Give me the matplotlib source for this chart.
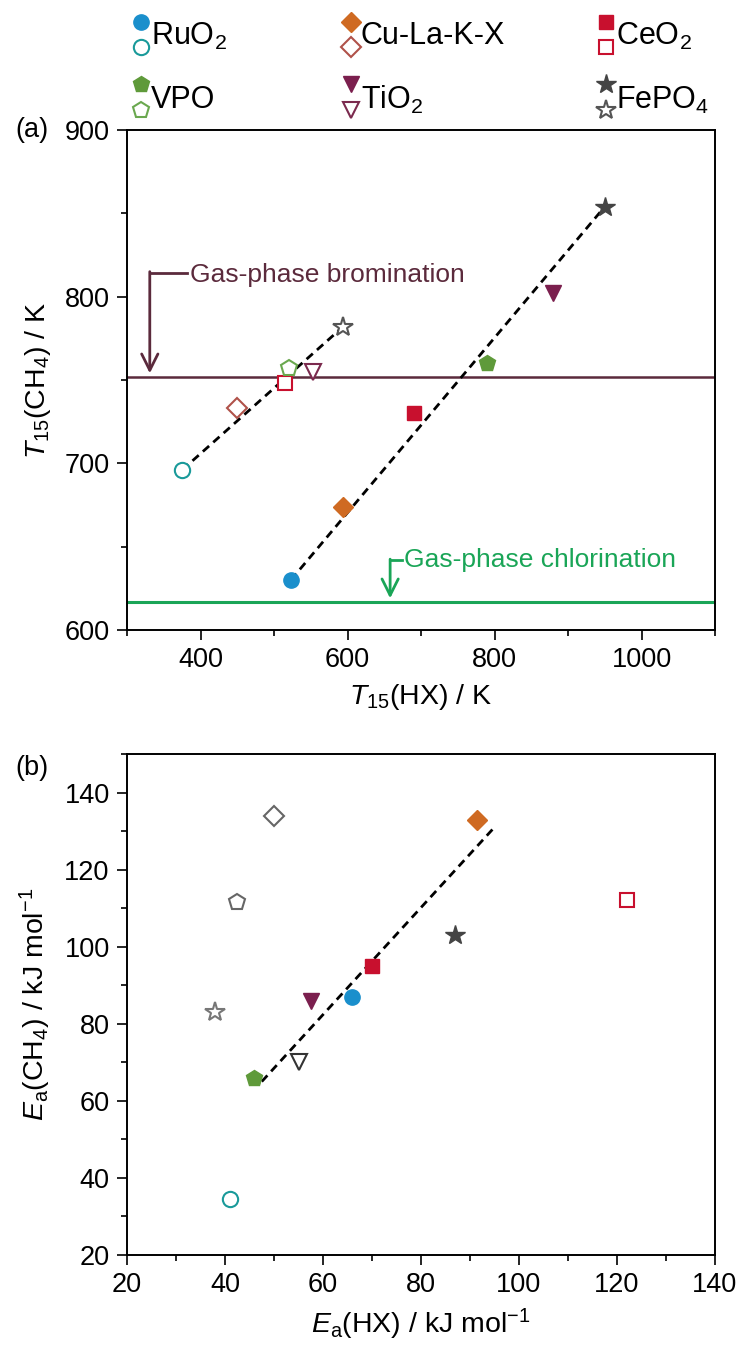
import numpy as np
import matplotlib
matplotlib.use('Agg')
import matplotlib.pyplot as plt
from matplotlib.ticker import MultipleLocator

plt.rcParams['font.family'] = ['Liberation Sans', 'DejaVu Sans']
plt.rcParams['mathtext.fontset'] = 'custom'
plt.rcParams['mathtext.rm'] = 'Liberation Sans'
plt.rcParams['mathtext.it'] = 'Liberation Sans:italic'
plt.rcParams['font.size'] = 19.5

# catalysts, in legend order
catalysts = ['RuO$_2$', 'Cu-La-K-X', 'CeO$_2$', 'VPO', 'TiO$_2$', 'FePO$_4$']
markers = ['o', 'D', 's', 'p', 'v', '*']
msizes = [11, 10, 9.5, 12, 12, 15]
fill_colors = ['#1a8fcc', '#cf6a22', '#c8102e', '#5f9a3a', '#7b1f4e', '#444444']
open_colors_a = ['#1a9a9a', '#b0524a', '#c8102e', '#6aa84f', '#7b2a4e', '#555555']
open_colors_b = ['#1a9a9a', '#666666', '#c8102e', '#666666', '#333333', '#777777']

# panel (a): T15 values in K
t15_hx_filled = [523, 594, 690, 790, 880, 950]
t15_ch4_filled = [630, 674, 730, 760, 802, 854]
t15_hx_open = [375, 450, 515, 520, 553, 594]
t15_ch4_open = [696, 733, 748, 757, 755, 782]

# gas-phase references (K)
t_bromination = 752
t_chlorination = 617

# dashed trend lines (a)
fit_open_x = [375, 594]
fit_open_y = [696, 782]
fit_filled_x = [523, 950]
fit_filled_y = [630, 854]

# panel (b): activation energies in kJ/mol
ea_hx_filled = [66, 91.5, 70, 46, 57.5, 87]
ea_ch4_filled = [87, 133, 95, 66, 86, 103]
ea_hx_open = [41, 50, 122, 42.5, 55, 38]
ea_ch4_open = [34.5, 134, 112, 111.5, 70, 83]

fit_b_x = [47.5, 95]
fit_b_y = [65, 131]

brom_color = '#5b2a3c'
chlor_color = '#1aa557'

fig = plt.figure(figsize=(7.4, 13.48), dpi=100)
W, H = 740, 1348
ax1 = fig.add_axes([127 / W, 1 - 630 / H, 588 / W, 500 / H])
ax2 = fig.add_axes([127 / W, 1 - 1255 / H, 588 / W, 501 / H])


def style_axes(ax):
    for s in ax.spines.values():
        s.set_linewidth(1.4)
    ax.tick_params(which='major', direction='out', length=7.5, width=1.2, pad=5)
    ax.tick_params(which='minor', direction='out', length=4, width=1.2)
    ax.tick_params(top=False, right=False)


def scatter(ax, xs, ys, colors, filled):
    for i in range(len(xs)):
        if filled:
            ax.plot(xs[i], ys[i], marker=markers[i], ms=msizes[i], color=fill_colors[i],
                    mec=fill_colors[i], ls='none', zorder=4)
        else:
            ax.plot(xs[i], ys[i], marker=markers[i], ms=msizes[i], mfc='white',
                    mec=colors[i], mew=1.5, ls='none', zorder=4)


arrow_style = '->,head_length=0.6,head_width=0.3'

# ---- panel (a)
ax1.axhline(t_bromination, color=brom_color, lw=1.8, zorder=1)
ax1.axhline(t_chlorination, color=chlor_color, lw=2.2, zorder=1)
ax1.plot(fit_open_x, fit_open_y, ls=(0, (3, 2)), color='black', lw=2, zorder=3)
ax1.plot(fit_filled_x, fit_filled_y, ls=(0, (3, 2)), color='black', lw=2, zorder=3)
scatter(ax1, t15_hx_open, t15_ch4_open, open_colors_a, False)
scatter(ax1, t15_hx_filled, t15_ch4_filled, None, True)

# bromination bracket arrow
ax1.plot([331, 382], [814, 814], color=brom_color, lw=2)
ax1.annotate('', xy=(331, 754), xytext=(331, 815),
             arrowprops=dict(arrowstyle=arrow_style, color=brom_color, lw=2,
                             shrinkA=0, shrinkB=0))
ax1.text(386, 813, 'Gas-phase bromination', color=brom_color, va='center', ha='left',
         fontsize=19)

# chlorination bracket arrow
ax1.plot([658, 674], [642, 642], color=chlor_color, lw=2)
ax1.annotate('', xy=(658, 619), xytext=(658, 642.5),
             arrowprops=dict(arrowstyle=arrow_style, color=chlor_color, lw=2,
                             shrinkA=0, shrinkB=0))
ax1.text(677, 642, 'Gas-phase chlorination', color=chlor_color, va='center', ha='left',
         fontsize=19)

ax1.set_xlim(300, 1100)
ax1.set_ylim(600, 900)
ax1.xaxis.set_major_locator(MultipleLocator(200))
ax1.xaxis.set_minor_locator(MultipleLocator(100))
ax1.yaxis.set_major_locator(MultipleLocator(100))
ax1.yaxis.set_minor_locator(MultipleLocator(50))
style_axes(ax1)
ax1.set_xlabel('$T_{15}$(HX) / K', labelpad=6, fontsize=20.5)
ax1.set_ylabel('$T_{15}$(CH$_4$) / K', labelpad=8, fontsize=20.5)

# ---- panel (b)
ax2.plot(fit_b_x, fit_b_y, ls=(0, (3, 2)), color='black', lw=2, zorder=3)
scatter(ax2, ea_hx_open, ea_ch4_open, open_colors_b, False)
scatter(ax2, ea_hx_filled, ea_ch4_filled, None, True)
ax2.set_xlim(20, 140)
ax2.set_ylim(20, 150)
ax2.xaxis.set_major_locator(MultipleLocator(20))
ax2.xaxis.set_minor_locator(MultipleLocator(10))
ax2.yaxis.set_major_locator(MultipleLocator(20))
ax2.yaxis.set_minor_locator(MultipleLocator(10))
style_axes(ax2)
ax2.set_xlabel('$E_\\mathrm{a}$(HX) / kJ mol$^{-1}$', labelpad=6, fontsize=20.5)
ax2.set_ylabel('$E_\\mathrm{a}$(CH$_4$) / kJ mol$^{-1}$', labelpad=8, fontsize=20.5)

fig.text(15 / W, 1 - 130 / H, '(a)', va='center', ha='left')
fig.text(15 / W, 1 - 768 / H, '(b)', va='center', ha='left')

# ---- legend (paired filled / open markers)
lax = fig.add_axes([0, 0, 1, 1])
lax.set_xlim(0, W)
lax.set_ylim(H, 0)
lax.axis('off')
leg_x = [141, 351, 606]
leg_rows = [(22, 47, 36), (84, 110, 100)]
for i, name in enumerate(catalysts):
    col = i % 3
    yf, yo, yl = leg_rows[i // 3]
    x = leg_x[col]
    lax.plot(x, yf, marker=markers[i], ms=msizes[i], color=fill_colors[i], ls='none')
    lax.plot(x, yo, marker=markers[i], ms=msizes[i], mfc='white', mec=open_colors_a[i],
             mew=1.5, ls='none')
    lax.text(x + 10, yl, name, va='center', ha='left', fontsize=22)

fig.savefig('out.png', dpi=100)
